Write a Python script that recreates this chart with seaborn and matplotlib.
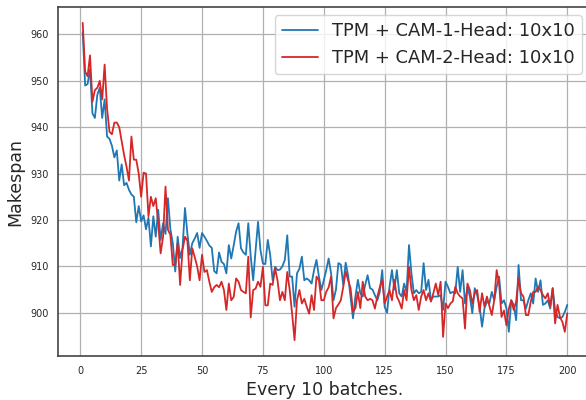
import numpy as np
import pandas as pd
import matplotlib
matplotlib.use("Agg")
import matplotlib.pyplot as plt
import seaborn as sns

label_1 = "TPM + CAM-1-Head: 10x10"
label_2 = "TPM + CAM-2-Head: 10x10"

cam1 = [
    960.5, 949.0, 949.3, 952.5, 943.0, 942.0, 947.0, 948.5, 942.0, 946.0,
    938.0, 937.5, 936.0, 933.5, 935.0, 928.5, 932.0, 927.5, 928.0, 926.5,
    925.5, 925.0, 919.5, 923.0, 919.7, 921.0, 918.0, 920.5, 914.3, 920.8,
    916.4, 922.2, 915.7, 919.3, 917.0, 924.7, 918.0, 915.0, 908.9, 916.4,
    911.8, 914.0, 922.6, 917.0, 912.5, 915.0, 916.0, 917.2, 914.0, 917.2,
    916.4, 915.5, 914.5, 914.0, 909.0, 908.5, 913.0, 911.0, 910.5, 908.5,
    914.6, 911.7, 914.5, 917.5, 919.3, 913.9, 913.0, 912.5, 919.3, 912.1,
    907.0, 913.5, 919.6, 913.5, 910.6, 910.5, 915.7, 912.4, 907.0, 909.9,
    909.2, 909.3, 910.0, 911.4, 916.7, 907.8, 907.8, 901.3, 908.5, 909.5,
    912.1, 907.0, 907.4, 907.0, 906.3, 909.2, 911.4, 907.8, 904.9, 907.0,
    909.2, 911.7, 908.5, 902.7, 905.0, 910.7, 910.4, 906.0, 910.8, 908.0,
    903.5, 898.8, 903.5, 907.1, 904.2, 903.5, 906.0, 908.1, 905.3, 905.0,
    903.8, 902.7, 904.5, 909.2, 901.3, 900.0, 905.6, 909.2, 905.0, 909.2,
    904.2, 903.5, 906.3, 904.5, 914.6, 908.5, 904.2, 904.9, 904.2, 904.5,
    910.7, 904.9, 907.1, 902.7, 903.5, 903.5, 903.5, 903.8, 900.6, 906.7,
    905.6, 904.2, 904.5, 904.2, 909.9, 904.5, 909.2, 902.0, 905.6, 903.5,
    899.9, 905.3, 903.8, 901.3, 897.0, 901.0, 902.4, 902.0, 904.5, 902.7,
    905.6, 907.8, 902.0, 902.7, 901.0, 895.9, 902.7, 901.7, 898.4, 910.3,
    902.7, 902.7, 900.9, 902.7, 904.2, 902.0, 907.4, 904.5, 907.0, 901.7,
    902.0, 902.7, 900.9, 905.3, 900.6, 899.1, 898.8, 899.1, 900.2, 901.7,
]

cam2 = [
    962.5, 952.0, 951.0, 955.5, 945.5, 948.0, 948.5, 950.0, 946.0, 953.5,
    944.0, 939.0, 938.5, 941.0, 941.0, 940.0, 937.0, 934.0, 931.5, 928.5,
    938.0, 933.0, 933.0, 930.0, 925.0, 930.2, 930.0, 920.8, 925.0, 923.0,
    924.7, 919.3, 912.8, 916.4, 927.2, 917.9, 916.8, 910.3, 910.3, 915.0,
    906.0, 913.6, 916.4, 915.5, 907.0, 913.9, 912.0, 910.0, 907.0, 912.5,
    908.8, 909.2, 906.7, 904.5, 905.5, 906.0, 905.5, 906.7, 904.9, 900.6,
    906.3, 902.7, 903.4, 907.4, 906.7, 904.9, 904.5, 904.2, 912.1, 899.0,
    904.9, 905.2, 906.7, 905.6, 909.9, 901.6, 901.6, 906.3, 906.0, 909.6,
    907.0, 902.7, 904.5, 902.7, 908.8, 904.9, 899.8, 894.1, 902.7, 904.9,
    902.0, 903.0, 901.3, 899.8, 903.8, 900.6, 907.8, 907.0, 902.7, 902.7,
    904.5, 905.5, 907.8, 898.8, 901.0, 901.8, 902.7, 905.6, 908.9, 907.0,
    905.3, 900.2, 901.0, 904.5, 901.0, 906.7, 903.5, 902.7, 903.0, 902.7,
    900.9, 903.5, 905.5, 907.1, 902.0, 903.5, 904.9, 902.7, 907.1, 903.5,
    902.4, 900.9, 904.9, 902.7, 909.9, 904.9, 902.7, 903.8, 900.6, 903.5,
    904.9, 902.7, 904.2, 902.4, 904.2, 906.3, 903.8, 906.7, 894.8, 902.0,
    901.0, 902.0, 902.5, 905.6, 904.2, 903.5, 903.1, 896.6, 906.3, 904.9,
    902.0, 904.2, 904.9, 900.2, 904.2, 901.3, 903.5, 901.5, 899.5, 902.7,
    909.2, 906.3, 899.1, 900.5, 897.3, 900.9, 902.7, 900.6, 902.4, 907.4,
    904.2, 903.5, 899.5, 899.5, 902.4, 904.5, 904.5, 905.6, 904.9, 903.8,
    903.1, 904.2, 901.3, 905.3, 897.7, 901.7, 899.1, 898.0, 895.9, 899.9,
]

batches = np.arange(1, len(cam1) + 1)

df = pd.DataFrame({
    "batch": np.concatenate([batches, batches]),
    "makespan": np.concatenate([cam1, cam2]),
    "model": [label_1] * len(cam1) + [label_2] * len(cam2),
})

sns.set_style("white")
plt.rcParams["font.family"] = ["DejaVu Sans"]

fig = plt.figure(figsize=(5.86, 4.0), dpi=100)
# axes extends past the right edge of the figure, as in the reference
ax = fig.add_axes([0.0998, 0.11, 0.9096, 0.8725])

sns.lineplot(data=df, x="batch", y="makespan", hue="model",
             palette=["#1f77b4", "#d62728"], linewidth=1.3, ax=ax)

ax.grid(True, color="#b0b0b0", linewidth=0.9)
ax.set_axisbelow(True)
for sp in ax.spines.values():
    sp.set_color("#444444")
    sp.set_linewidth(1.2)

ax.set_xticks([0, 25, 50, 75, 100, 125, 150, 175, 200])
ax.set_yticks([900, 910, 920, 930, 940, 950, 960])
ax.tick_params(axis="both", labelsize=7, length=3.5, color="#444444")
ax.set_xlabel("Every 10 batches.", fontsize=12.5)
ax.set_ylabel("Makespan", fontsize=12.5)

leg = ax.legend(loc="upper right", fontsize=12.9, title=None, frameon=True,
                bbox_to_anchor=(582 / 586, 1 - 15 / 400),
                bbox_transform=fig.transFigure, borderaxespad=0)
for line in leg.get_lines():
    line.set_linewidth(1.3)

fig.savefig("out.png", dpi=100)
